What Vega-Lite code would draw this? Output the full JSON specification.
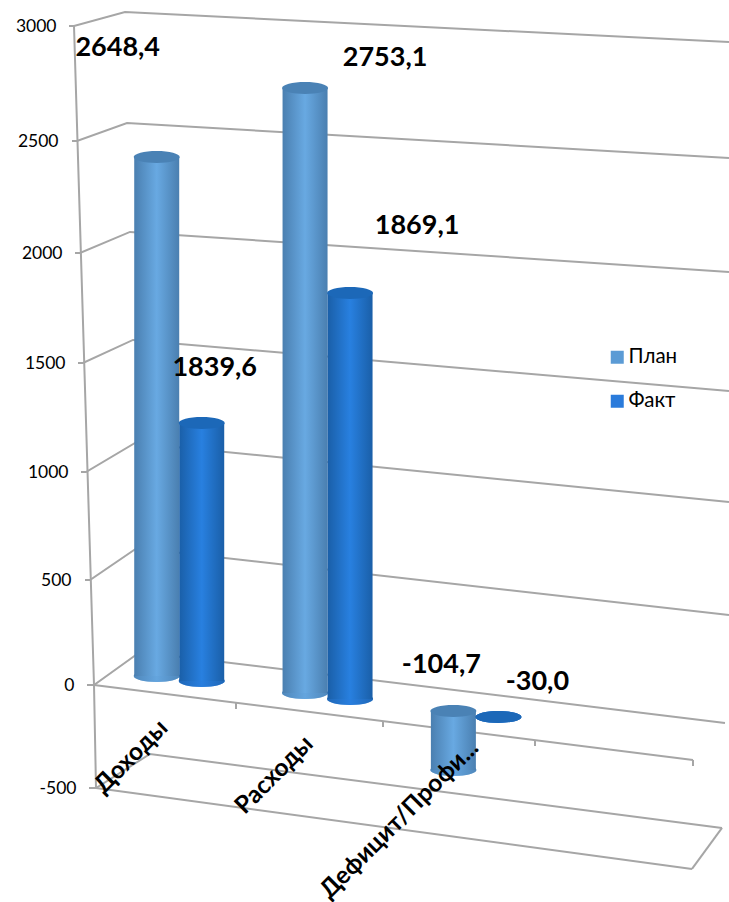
{
"$schema":"https://vega.github.io/schema/vega-lite/v6.json",
"width":729,"height":902,"padding":0,"autosize":{"type":"none"},"background":"white",
"config":{"view":{"stroke":null},"font":"Lato"},
"datasets":{
"bars":[
{"category":"Доходы","series":"План","top":2429,"base":43,"label":"2648,4"},
{"category":"Доходы","series":"Факт","top":1225,"base":19,"label":"1839,6"},
{"category":"Расходы","series":"План","top":2730,"base":-39,"label":"2753,1"},
{"category":"Расходы","series":"Факт","top":1818,"base":-68,"label":"1869,1"},
{"category":"Дефицит/Профи...","series":"План","top":-126,"base":-413,"label":"-104,7"},
{"category":"Дефицит/Профи...","series":"Факт","top":-155,"base":-155,"label":"-30,0"}
],
"walls":[
{"line":"g3000","pos":69,"level":3000},{"line":"g3000","pos":74,"level":3000},{"line":"g3000","pos":125,"level":3061},{"line":"g3000","pos":729,"level":2930},
{"line":"g2500","pos":72,"level":2500},{"line":"g2500","pos":77,"level":2500},{"line":"g2500","pos":127,"level":2578},{"line":"g2500","pos":729,"level":2424},
{"line":"g2000","pos":75,"level":2000},{"line":"g2000","pos":80,"level":2000},{"line":"g2000","pos":130,"level":2094},{"line":"g2000","pos":729,"level":1914},
{"line":"g1500","pos":78,"level":1500},{"line":"g1500","pos":83,"level":1500},{"line":"g1500","pos":133,"level":1605},{"line":"g1500","pos":729,"level":1372},
{"line":"g1000","pos":81,"level":1000},{"line":"g1000","pos":86,"level":1000},{"line":"g1000","pos":135,"level":1133},{"line":"g1000","pos":729,"level":861},
{"line":"g500","pos":85,"level":500},{"line":"g500","pos":90,"level":500},{"line":"g500","pos":137,"level":648},{"line":"g500","pos":729,"level":333},
{"line":"g0","pos":87,"level":0},{"line":"g0","pos":94,"level":0},{"line":"g0","pos":140,"level":157},{"line":"g0","pos":725,"level":-184},
{"line":"gm500","pos":89,"level":-500},{"line":"gm500","pos":96,"level":-500},{"line":"gm500","pos":150,"level":-335},{"line":"gm500","pos":722,"level":-694},
{"line":"side","pos":692,"level":-893},{"line":"side","pos":722,"level":-694},
{"line":"front","pos":74,"level":3000},{"line":"front","pos":94,"level":0},{"line":"front","pos":96,"level":-500},
{"line":"floor","pos":94,"level":0},{"line":"floor","pos":693,"level":-364},
{"line":"base","pos":96,"level":-500},{"line":"base","pos":692,"level":-893},
{"line":"t1","pos":236,"level":-87},{"line":"t1","pos":236,"level":-117},
{"line":"t2","pos":383,"level":-175},{"line":"t2","pos":383,"level":-204},
{"line":"t3","pos":535,"level":-267},{"line":"t3","pos":535,"level":-296},
{"line":"t4","pos":693,"level":-364},{"line":"t4","pos":693,"level":-393}
]},
"data":{"name":"bars"},
"encoding":{
  "x":{"field":"category","type":"nominal","sort":null,"axis":null,"scale":{"type":"band","domain":["Доходы","Расходы","Дефицит/Профи..."],"range":[105,550],"paddingInner":0.394,"paddingOuter":0.197}},
  "xOffset":{"field":"series","type":"nominal","scale":{"domain":["План","Факт"],"range":[0,90],"padding":0}}
},
"resolve":{"scale":{"x":"independent"}},
"layer":[
{"data":{"name":"walls"},
 "mark":{"type":"line","color":"#a6a6a6","strokeWidth":2,"clip":false},
 "encoding":{
  "xOffset":null,
  "x":{"field":"pos","type":"quantitative","sort":null,"axis":null,"scale":{"type":"linear","domain":[0,729],"range":[0,729],"nice":false,"zero":false}},
  "y":{"field":"level","type":"quantitative","scale":{"domain":[-1000,-500,0,500,1000,1500,2000,2500,3000],"range":[891,788,685,580,472,363,253,141,26],"nice":false,"zero":false,"clamp":false},
   "axis":{"title":null,"values":[-500,0,500,1000,1500,2000,2500,3000],"labelExpr":"''+datum.value","grid":false,"domain":false,"ticks":false,"offset":-76,"labelFont":"Lato","labelFontSize":17.5,"labelColor":"#000",
    "labelPadding":{"condition":[{"test":"datum.value==3000","value":20},{"test":"datum.value==2500","value":18},{"test":"datum.value==2000","value":14},{"test":"datum.value==1500","value":11},{"test":"datum.value==1000","value":8},{"test":"datum.value==500","value":5},{"test":"datum.value==0","value":2}],"value":0}}},
  "detail":{"field":"line"}}},
{"mark":{"type":"point","filled":true,"size":2116,"opacity":1,"shape":"M-1,0 A1,0.26 0 1 0 1,0 A1,0.26 0 1 0 -1,0 Z"},
 "encoding":{
  "x":{"field":"category","type":"nominal","sort":null,"scale":{"type":"band","domain":["Доходы","Расходы","Дефицит/Профи..."],"range":[105,550],"paddingInner":0.394,"paddingOuter":0.197},
   "axis":{"title":null,"domain":false,"ticks":false,"grid":false,"zindex":1,"offset":-172,"labelAngle":-45,"labelAlign":"right","labelBaseline":"middle","labelFont":"Lato","labelFontWeight":"bold","labelFontSize":24.5,"labelColor":"#000","labelLimit":0,
    "labelOffset":{"condition":[{"test":"datum.value=='Доходы'","value":-15},{"test":"datum.value=='Расходы'","value":-18},{"test":"datum.value!=''","value":-1}],"value":-1},
    "labelPadding":{"condition":[{"test":"datum.value=='Доходы'","value":-6},{"test":"datum.value=='Расходы'","value":10}],"value":14}}},
  "y":{"field":"base","type":"quantitative"},
  "color":{"field":"series","type":"nominal","title":null,
   "scale":{"domain":["План","Факт"],"range":["#5B9BD5","#2A7BDB"]},
   "legend":{"orient":"none","legendX":607,"legendY":347,"symbolType":"square","symbolSize":169,"symbolStrokeWidth":0,"symbolOpacity":1,"labelFont":"Lato","labelFontSize":20.5,"labelColor":"#000","labelOffset":1,"rowPadding":23,"padding":0}}}},
{"transform":[{"filter":"datum.series=='План'"}],
 "mark":{"type":"point","filled":true,"size":2116,"shape":"M-1,0 A1,0.26 0 1 0 1,0 A1,0.26 0 1 0 -1,0 Z","fill":{"gradient":"linear","x1":0,"x2":1,"y1":0,"y2":0,"stops":[{"offset":0,"color":"#4A7FB0"},{"offset":0.5,"color":"#68A9E2"},{"offset":1,"color":"#4A7FB0"}]}},
 "encoding":{"y":{"field":"base","type":"quantitative"}}},
{"transform":[{"filter":"datum.series=='План'"}],
 "mark":{"type":"bar","fill":{"gradient":"linear","x1":0,"x2":1,"y1":0,"y2":0,"stops":[{"offset":0,"color":"#4A7FB0"},{"offset":0.5,"color":"#68A9E2"},{"offset":1,"color":"#4A7FB0"}]}},
 "encoding":{"y":{"field":"top","type":"quantitative"},"y2":{"field":"base"}}},
{"transform":[{"filter":"datum.series=='План'"}],
 "mark":{"type":"point","filled":true,"size":2116,"opacity":1,"fill":"#4A82B5","shape":"M-1,0 A1,0.26 0 1 0 1,0 A1,0.26 0 1 0 -1,0 Z"},
 "encoding":{"y":{"field":"top","type":"quantitative"}}},
{"transform":[{"filter":"datum.series=='Факт'"}],
 "mark":{"type":"point","filled":true,"size":2116,"shape":"M-1,0 A1,0.26 0 1 0 1,0 A1,0.26 0 1 0 -1,0 Z","fill":{"gradient":"linear","x1":0,"x2":1,"y1":0,"y2":0,"stops":[{"offset":0,"color":"#1A5FA8"},{"offset":0.5,"color":"#2880E0"},{"offset":1,"color":"#1A5FA8"}]}},
 "encoding":{"y":{"field":"base","type":"quantitative"}}},
{"transform":[{"filter":"datum.series=='Факт'"}],
 "mark":{"type":"bar","fill":{"gradient":"linear","x1":0,"x2":1,"y1":0,"y2":0,"stops":[{"offset":0,"color":"#1A5FA8"},{"offset":0.5,"color":"#2880E0"},{"offset":1,"color":"#1A5FA8"}]}},
 "encoding":{"y":{"field":"top","type":"quantitative"},"y2":{"field":"base"}}},
{"transform":[{"filter":"datum.series=='Факт'"}],
 "mark":{"type":"point","filled":true,"size":2116,"opacity":1,"fill":"#1C68B8","shape":"M-1,0 A1,0.26 0 1 0 1,0 A1,0.26 0 1 0 -1,0 Z"},
 "encoding":{"y":{"field":"top","type":"quantitative"}}},
{"transform":[{"filter":"datum.label=='2648,4'"}],"mark":{"type":"text","font":"Lato","fontWeight":"bold","fontSize":27,"color":"#000","dx":-39,"dy":-109},"encoding":{"y":{"field":"top","type":"quantitative"},"text":{"field":"label"}}},
{"transform":[{"filter":"datum.label=='2753,1'"}],"mark":{"type":"text","font":"Lato","fontWeight":"bold","fontSize":27,"color":"#000","dx":80,"dy":-30},"encoding":{"y":{"field":"top","type":"quantitative"},"text":{"field":"label"}}},
{"transform":[{"filter":"datum.label=='1869,1'"}],"mark":{"type":"text","font":"Lato","fontWeight":"bold","fontSize":27,"color":"#000","dx":67,"dy":-67},"encoding":{"y":{"field":"top","type":"quantitative"},"text":{"field":"label"}}},
{"transform":[{"filter":"datum.label=='1839,6'"}],"mark":{"type":"text","font":"Lato","fontWeight":"bold","fontSize":27,"color":"#000","dx":13,"dy":-55},"encoding":{"y":{"field":"top","type":"quantitative"},"text":{"field":"label"}}},
{"transform":[{"filter":"datum.label=='-104,7'"}],"mark":{"type":"text","font":"Lato","fontWeight":"bold","fontSize":27,"color":"#000","dx":-12,"dy":-46},"encoding":{"y":{"field":"top","type":"quantitative"},"text":{"field":"label"}}},
{"transform":[{"filter":"datum.label=='-30,0'"}],"mark":{"type":"text","font":"Lato","fontWeight":"bold","fontSize":27,"color":"#000","dx":39,"dy":-35},"encoding":{"y":{"field":"top","type":"quantitative"},"text":{"field":"label"}}}
]
}
